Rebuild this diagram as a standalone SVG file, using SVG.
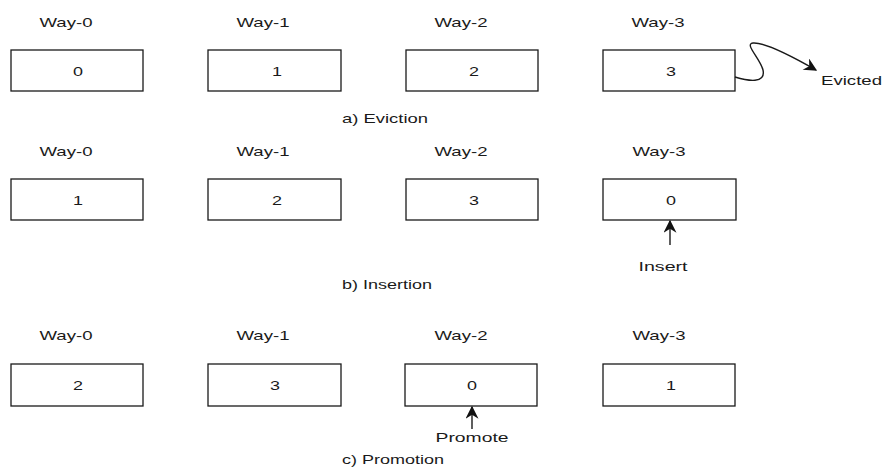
<svg xmlns="http://www.w3.org/2000/svg" width="885" height="475" viewBox="0 0 885 475">
<style>
text{font-family:"Liberation Sans",Arial,sans-serif;font-size:13px;fill:#1a1a1a;}
.m{text-anchor:middle;}
.box{fill:#fff;stroke:#1a1a1a;stroke-width:1.3;}
.ln{fill:none;stroke:#1a1a1a;stroke-width:1.4;}
</style>
<defs>
<marker id="ah2" viewBox="0 0 10 10" refX="9" refY="5" markerWidth="14" markerHeight="13" orient="auto" markerUnits="userSpaceOnUse">
<path d="M0,0 L10,5 L0,10 L3,5 z" fill="#111"/>
</marker>
</defs>
<rect width="885" height="475" fill="#fff"/>

<!-- Row a -->
<g id="a-way0"><text class="m" x="66" y="27" textLength="53" lengthAdjust="spacingAndGlyphs">Way-0</text><rect class="box" x="11" y="50" width="132" height="41"/><text class="m" x="78" y="76" textLength="10" lengthAdjust="spacingAndGlyphs">0</text></g>
<g id="a-way1"><text class="m" x="263" y="27" textLength="53" lengthAdjust="spacingAndGlyphs">Way-1</text><rect class="box" x="208" y="50" width="133" height="41"/><text class="m" x="277" y="76" textLength="10" lengthAdjust="spacingAndGlyphs">1</text></g>
<g id="a-way2"><text class="m" x="461" y="27" textLength="53" lengthAdjust="spacingAndGlyphs">Way-2</text><rect class="box" x="406" y="50" width="132" height="41"/><text class="m" x="474" y="76" textLength="10" lengthAdjust="spacingAndGlyphs">2</text></g>
<g id="a-way3"><text class="m" x="658" y="27" textLength="53" lengthAdjust="spacingAndGlyphs">Way-3</text><rect class="box" x="603" y="50" width="132" height="41"/><text class="m" x="671" y="76" textLength="10" lengthAdjust="spacingAndGlyphs">3</text></g>
<g id="evicted"><text x="821" y="85" textLength="61" lengthAdjust="spacingAndGlyphs">Evicted</text></g>
<text x="342" y="123" textLength="86" lengthAdjust="spacingAndGlyphs">a) Eviction</text>

<!-- Row b -->
<g id="b-way0"><text class="m" x="66" y="156" textLength="53" lengthAdjust="spacingAndGlyphs">Way-0</text><rect class="box" x="11" y="179" width="132" height="41"/><text class="m" x="78" y="205" textLength="10" lengthAdjust="spacingAndGlyphs">1</text></g>
<g id="b-way1"><text class="m" x="263" y="156" textLength="53" lengthAdjust="spacingAndGlyphs">Way-1</text><rect class="box" x="208" y="179" width="133" height="41"/><text class="m" x="277" y="205" textLength="10" lengthAdjust="spacingAndGlyphs">2</text></g>
<g id="b-way2"><text class="m" x="461" y="156" textLength="53" lengthAdjust="spacingAndGlyphs">Way-2</text><rect class="box" x="406" y="179" width="132" height="41"/><text class="m" x="474" y="205" textLength="10" lengthAdjust="spacingAndGlyphs">3</text></g>
<g id="b-way3"><text class="m" x="659" y="156" textLength="53" lengthAdjust="spacingAndGlyphs">Way-3</text><rect class="box" x="603" y="179" width="133" height="41"/><text class="m" x="671" y="205" textLength="10" lengthAdjust="spacingAndGlyphs">0</text></g>
<g id="insert"><text class="m" x="663" y="271" textLength="49" lengthAdjust="spacingAndGlyphs">Insert</text></g>
<text x="342" y="289" textLength="90" lengthAdjust="spacingAndGlyphs">b) Insertion</text>

<!-- Row c -->
<g id="c-way0"><text class="m" x="66" y="340" textLength="53" lengthAdjust="spacingAndGlyphs">Way-0</text><rect class="box" x="11" y="364" width="132" height="42"/><text class="m" x="78" y="390" textLength="10" lengthAdjust="spacingAndGlyphs">2</text></g>
<g id="c-way1"><text class="m" x="263" y="340" textLength="53" lengthAdjust="spacingAndGlyphs">Way-1</text><rect class="box" x="208" y="364" width="133" height="42"/><text class="m" x="275" y="390" textLength="10" lengthAdjust="spacingAndGlyphs">3</text></g>
<g id="c-way2"><text class="m" x="461" y="340" textLength="53" lengthAdjust="spacingAndGlyphs">Way-2</text><rect class="box" x="405" y="364" width="132" height="42"/><text class="m" x="472" y="390" textLength="10" lengthAdjust="spacingAndGlyphs">0</text></g>
<g id="c-way3"><text class="m" x="659" y="340" textLength="53" lengthAdjust="spacingAndGlyphs">Way-3</text><rect class="box" x="603" y="364" width="132" height="42"/><text class="m" x="671" y="390" textLength="10" lengthAdjust="spacingAndGlyphs">1</text></g>
<g id="promote"><text class="m" x="472" y="442" textLength="73" lengthAdjust="spacingAndGlyphs">Promote</text></g>
<text x="342" y="464" textLength="102" lengthAdjust="spacingAndGlyphs">c) Promotion</text>

<g id="connectors">
<path class="ln" d="M735,77 C748,81 766,84 763,70 C760,58 744,44 753,43 C765,42 795,58 816,70" marker-end="url(#ah2)"/>
<line class="ln" x1="670" y1="245" x2="670" y2="221" marker-end="url(#ah2)"/>
<line class="ln" x1="472" y1="429" x2="472" y2="407" marker-end="url(#ah2)"/>
</g>
</svg>
